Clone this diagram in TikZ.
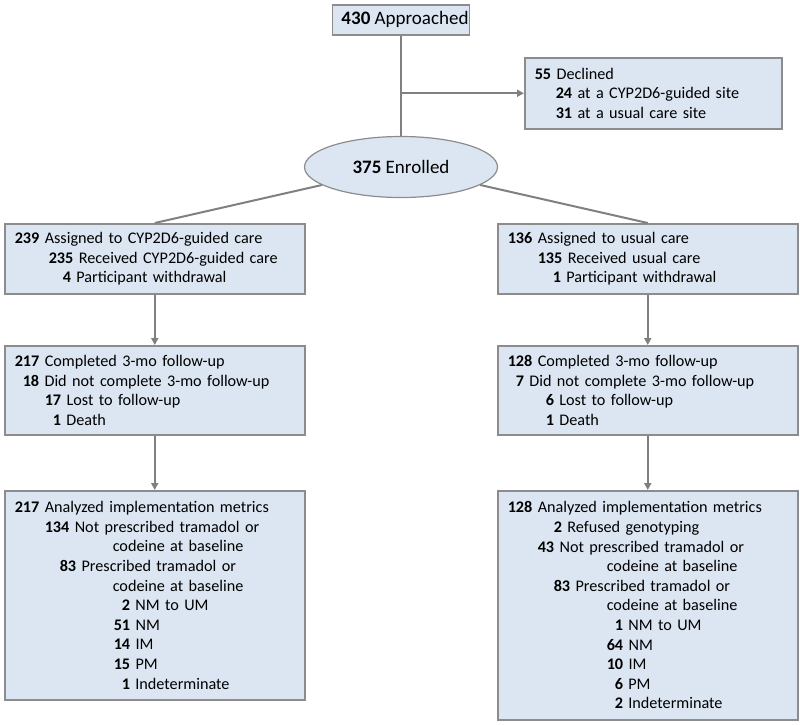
\documentclass[tikz,border=0pt]{standalone}
\usepackage{fontspec}
\setmainfont{Carlito}
\usetikzlibrary{arrows.meta}
\usetikzlibrary{shapes.geometric}
\definecolor{boxfill}{HTML}{DCE6F2}
\definecolor{boxline}{HTML}{8C8C8C}
\definecolor{linkgray}{HTML}{808080}
\newcommand{\cnt}[3]{\hspace*{#1pt}\textbf{#2} #3}
\newcommand{\cont}[2]{\hspace*{#1pt}#2}

\begin{document}
\begin{tikzpicture}[x=1pt,y=-1pt,
		flowbox/.style={draw=boxline, line width=1.5pt, fill=boxfill, anchor=north west,
			align=left, text width=#1, inner xsep=10pt, inner ysep=0pt,
			font=\fontsize{16.2}{19.6}\selectfont},
		link/.style={draw=linkgray, line width=2pt},
		tip/.style={-{Triangle[length=7pt,width=7pt]}}]
		\useasboundingbox (0,0) rectangle (800,724);
		
		\node [draw=boxline, line width=1.5pt, fill=boxfill, anchor=north, minimum width=137pt,
			minimum height=30pt, inner xsep=0pt, font=\fontsize{19}{22}\selectfont]
			(appr) at (401,4) {\hspace*{8pt}\textbf{430} Approached};
		\node [flowbox=237pt, minimum height=71pt] (decl) at (524,57)
			{\cnt{0}{55}{Declined}\\ \cnt{21}{24}{at a CYP2D6-guided site}\\ \cnt{21}{31}{at a usual care site}};
		\node [ellipse, draw=boxline, line width=1.2pt, fill=boxfill, minimum width=193pt,
			minimum height=61pt, inner sep=0pt, font=\fontsize{19}{22}\selectfont]
			(enr) at (401,167) {\textbf{375} Enrolled};
		
		% CYP2D6-guided arm
		\node [flowbox=280pt, minimum height=70pt] (g1) at (4,223)
			{\cnt{0}{239}{Assigned to CYP2D6-guided care}\\ \cnt{34}{235}{Received CYP2D6-guided care}\\
			\cnt{48}{4}{Participant withdrawal}};
		\node [flowbox=280pt, minimum height=89pt] (g2) at (4,345)
			{\cnt{0}{217}{Completed 3-mo follow-up}\\ \cnt{8}{18}{Did not complete 3-mo follow-up}\\
			\cnt{30}{17}{Lost to follow-up}\\ \cnt{38}{1}{Death}};
		\node [flowbox=280pt, minimum height=209pt] (g3) at (4,490)
			{\cnt{0}{217}{Analyzed implementation metrics}\\ \cnt{30}{134}{Not prescribed tramadol or}\\
			\cont{98}{codeine at baseline}\\ \cnt{45}{83}{Prescribed tramadol or}\\
			\cont{98}{codeine at baseline}\\ \cnt{107}{2}{NM to UM}\\ \cnt{99}{51}{NM}\\
			\cnt{99}{14}{IM}\\ \cnt{99}{15}{PM}\\ \cnt{107}{1}{Indeterminate}};
		
		% usual care arm
		\node [flowbox=280pt, minimum height=70pt] (u1) at (497,223)
			{\cnt{0}{136}{Assigned to usual care}\\ \cnt{30}{135}{Received usual care}\\
			\cnt{45}{1}{Participant withdrawal}};
		\node [flowbox=280pt, minimum height=89pt] (u2) at (497,345)
			{\cnt{0}{128}{Completed 3-mo follow-up}\\ \cnt{8}{7}{Did not complete 3-mo follow-up}\\
			\cnt{38}{6}{Lost to follow-up}\\ \cnt{38}{1}{Death}};
		\node [flowbox=280pt, minimum height=229pt] (u3) at (497,490)
			{\cnt{0}{128}{Analyzed implementation metrics}\\ \cnt{46}{2}{Refused genotyping}\\
			\cnt{30}{43}{Not prescribed tramadol or}\\ \cont{99}{codeine at baseline}\\
			\cnt{46}{83}{Prescribed tramadol or}\\ \cont{99}{codeine at baseline}\\
			\cnt{107}{1}{NM to UM}\\ \cnt{99}{64}{NM}\\ \cnt{99}{10}{IM}\\ \cnt{107}{6}{PM}\\
			\cnt{107}{2}{Indeterminate}};
		
		\coordinate (split) at (appr.south |- decl.west);
		\draw [link] (appr) -- (enr);
		\draw [link, tip] (split) -- (decl);
		\draw [link] (enr) -- (g1.north);
		\draw [link] (enr) -- (u1.north);
		\draw [link, tip] (g1) -- (g2);
		\draw [link, tip] (g2) -- (g3);
		\draw [link, tip] (u1) -- (u2);
		\draw [link, tip] (u2) -- (u3);
	\end{tikzpicture}
\end{document}
